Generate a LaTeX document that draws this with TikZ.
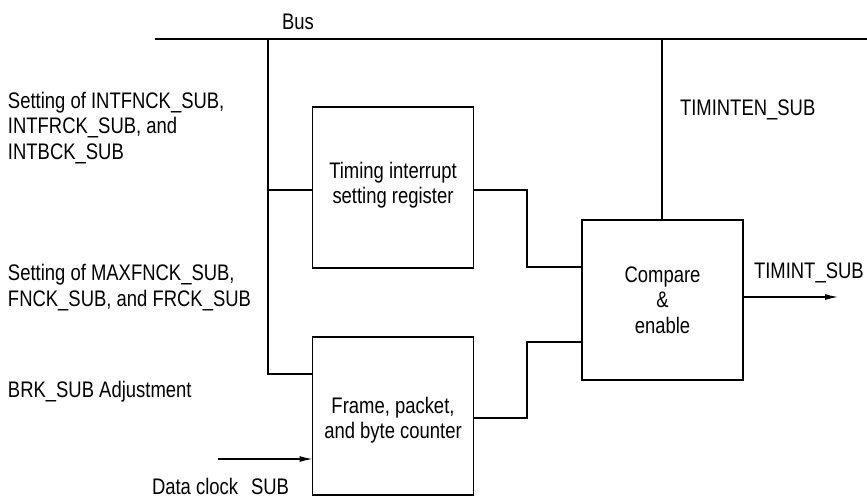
\documentclass[tikz,border=0pt]{standalone}
\usepackage{fontspec}
\setmainfont{Liberation Sans}[FakeStretch=0.82]
\usetikzlibrary{arrows.meta}
\begin{document}
\begin{tikzpicture}[x=1pt,y=-1pt,
  line width=1.2pt,
  every node/.style={font=\fontsize{22.5}{25.5}\selectfont, inner sep=0pt, outer sep=0pt},
  blk/.style={draw, line width=1.2pt, anchor=north west},
  lbl/.style={align=left, anchor=west},
  ctr/.style={align=center},
  arr/.style={-{Latex[length=13pt,width=6pt]}}
]
\useasboundingbox (0,0) rectangle (867,498);
% blocks
\node[blk, minimum width=161pt, minimum height=161pt] (tim) at (312.5,107) {};
\node[blk, minimum width=161pt, minimum height=158pt] (frm) at (312.5,337) {};
\node[blk, minimum width=161pt, minimum height=160pt] (cmp) at (582,220) {};
% block texts
\node[ctr] (timtxt) at (393,185) {Timing interrupt\\setting register};
\node[ctr] (frmtxt) at (393,420) {Frame, packet,\\and byte counter};
\node[ctr] (cmptxt) at (662.5,300) {Compare\\\&\\enable};
% labels
\node (bus) at (298,22) {Bus};
\node[lbl] (l1) at (8,128) {Setting of INTFNCK\_SUB,\\INTFRCK\_SUB, and\\INTBCK\_SUB};
\node[lbl] (l2) at (8,287.5) {Setting of MAXFNCK\_SUB,\\FNCK\_SUB, and FRCK\_SUB};
\node[lbl] (l3) at (8,392) {BRK\_SUB Adjustment};
\node[lbl] (l4) at (152,486.5) {Data clock\hspace{13pt}SUB};
\node[lbl] (l5) at (680,110) {TIMINTEN\_SUB};
\node[lbl] (l6) at (754,273) {TIMINT\_SUB};
% coordinates
\coordinate (busL) at (155,39);
\coordinate (busR) at (867,39);
\coordinate (v1t) at (268,39);
\coordinate (v2t) at (662,39);
\coordinate (clk) at (218,459);
\coordinate (out) at (838,297);
% connectors
\draw (busL) -- (busR);
\draw (v1t) |- (frm.west |- 0,374);
\draw (v1t |- 0,190) -- (tim.west |- 0,190);
\draw (tim.east |- 0,190) -- (527,190) |- (cmp.west |- 0,267);
\draw (frm.east |- 0,418) -- (527,418) |- (cmp.west |- 0,342);
\draw (v2t) -- (cmp.north -| v2t);
\draw[arr] (cmp.east |- out) -- (out);
\draw[arr] (clk) -- (frm.west |- clk);
\end{tikzpicture}
\end{document}
